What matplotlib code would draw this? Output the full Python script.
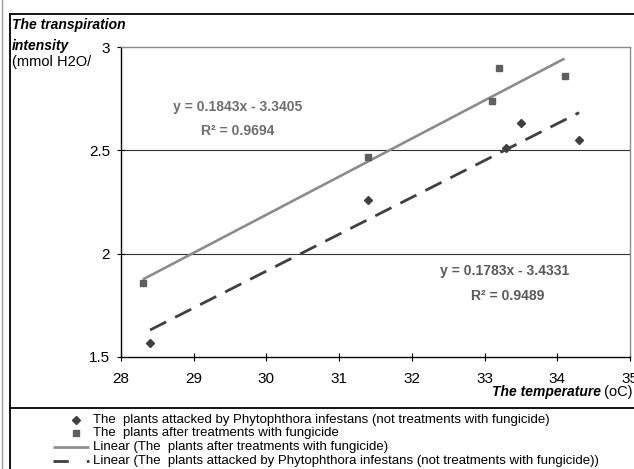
import matplotlib
matplotlib.use("Agg")
import matplotlib.pyplot as plt
from matplotlib.lines import Line2D
import numpy as np

# ---- data ----
x_attacked = [28.4, 31.4, 33.3, 33.5, 34.3]
y_attacked = [1.57, 2.26, 2.51, 2.63, 2.55]
x_treated = [28.3, 31.4, 33.1, 33.2, 34.1]
y_treated = [1.86, 2.47, 2.74, 2.90, 2.86]
fit_treated = (0.1843, -3.3405)
fit_attacked = (0.1783, -3.4331)
r2_treated = 0.9694
r2_attacked = 0.9489
x_ticks = [28, 29, 30, 31, 32, 33, 34, 35]
y_ticks = [1.5, 2, 2.5, 3]
legend_labels = [
    "The  plants attacked by Phytophthora infestans (not treatments with fungicide)",
    "The  plants after treatments with fungicide",
    "Linear (The  plants after treatments with fungicide)",
    "Linear (The  plants attacked by Phytophthora infestans (not treatments with fungicide))",
]

W, H = 634, 469
plt.rcParams['font.family'] = ['Liberation Sans', 'DejaVu Sans']

fig = plt.figure(figsize=(W / 100, H / 100), dpi=100)

def fx(px):
    return px / W

def fy(py):
    return 1 - py / H

left, right, top, bottom = 121, 630, 47, 357
ax = fig.add_axes([fx(left), fy(bottom), fx(right) - fx(left), fy(top) - fy(bottom)])
ax.set_xlim(28, 35)
ax.set_ylim(1.5, 3)
ax.set_xticks(x_ticks)
ax.set_yticks(y_ticks)
ax.set_xticklabels([str(v) for v in x_ticks])
ax.set_yticklabels(['1.5', '2', '2.5', '3'])
ax.tick_params(direction='inout', length=6, width=0.8, labelsize=11, colors='black')
ax.tick_params(axis='x', pad=8)
ax.tick_params(axis='y', pad=5)
for s in ['left', 'bottom']:
    ax.spines[s].set_color('black')
    ax.spines[s].set_linewidth(1.0)
for s in ['top', 'right']:
    ax.spines[s].set_color('#8a8a8a')
    ax.spines[s].set_linewidth(1.0)

for g in [2, 2.5]:
    ax.axhline(g, color='#333333', lw=0.8, zorder=1)

# trendlines
xt = np.array([min(x_treated), max(x_treated)])
ax.plot(xt, fit_treated[0] * xt + fit_treated[1], color='#8c8c8c', lw=1.9, solid_capstyle='butt', zorder=2)
xa = np.array([min(x_attacked), max(x_attacked)])
la, = ax.plot(xa, fit_attacked[0] * xa + fit_attacked[1], color='#404040', lw=2.0, zorder=2)
la.set_dashes([6.5, 3.6])

ax.plot(x_attacked, y_attacked, linestyle='none', marker='D', markersize=3.8, color='#404040', zorder=3)
ax.plot(x_treated, y_treated, linestyle='none', marker='s', markersize=4.3, color='#5f5f5f', zorder=3)

# equations
eqc = '#6e6e6e'
fig.text(fx(238), fy(107), "y = %.4fx - %.4f" % (fit_treated[0], -fit_treated[1]), ha='center', va='center',
         fontsize=10, fontweight='bold', color=eqc)
fig.text(fx(238), fy(131), "R² = %.4f" % r2_treated, ha='center', va='center',
         fontsize=10, fontweight='bold', color=eqc)
fig.text(fx(505), fy(271), "y = %.4fx - %.4f" % (fit_attacked[0], -fit_attacked[1]), ha='center', va='center',
         fontsize=10, fontweight='bold', color='#5a5a5a')
fig.text(fx(508), fy(296), "R² = %.4f" % r2_attacked, ha='center', va='center',
         fontsize=10, fontweight='bold', color='#5a5a5a')

# axis titles
fig.text(fx(12), fy(25), "The transpiration", ha='left', va='center', fontsize=10, fontweight='bold', style='italic')
fig.text(fx(12), fy(46), "intensity", ha='left', va='center', fontsize=10, fontweight='bold', style='italic')
fig.text(fx(12), fy(62), "(mmol H2O/", ha='left', va='center', fontsize=10.5)
t1 = fig.text(fx(633), fy(392), " (oC)", ha='right', va='center', fontsize=10.5)
fig.canvas.draw()
bb = t1.get_window_extent()
fig.text(bb.x0 / W, fy(392), "The temperature", ha='right', va='center', fontsize=10, fontweight='bold', style='italic')

# frame lines
fig.add_artist(Line2D([fx(10), fx(10)], [fy(14), 0], transform=fig.transFigure, color='black', lw=1.3))
fig.add_artist(Line2D([fx(10), 1], [fy(14), fy(14)], transform=fig.transFigure, color='black', lw=1.3))
fig.add_artist(Line2D([fx(10), 1], [fy(408), fy(408)], transform=fig.transFigure, color='black', lw=1.3))
fig.add_artist(Line2D([fx(1.5), fx(1.5)], [fy(0), 0], transform=fig.transFigure, color='#9a9a9a', lw=1.0))

# legend
ys = [420, 433, 447, 461]
fig.add_artist(Line2D([fx(76)], [fy(ys[0])], transform=fig.transFigure, marker='D', markersize=3.8,
                      color='#404040', linestyle='none'))
fig.add_artist(Line2D([fx(76)], [fy(ys[1])], transform=fig.transFigure, marker='s', markersize=4.3,
                      color='#5f5f5f', linestyle='none'))
fig.add_artist(Line2D([fx(53), fx(89)], [fy(ys[2]), fy(ys[2])], transform=fig.transFigure,
                      color='#8c8c8c', lw=1.9, solid_capstyle='butt'))
ld = Line2D([fx(53), fx(89)], [fy(ys[3]), fy(ys[3])], transform=fig.transFigure, color='#404040', lw=2.0)
ld.set_dashes([5.5, 6.5])
fig.add_artist(ld)
for yy, lab in zip(ys, legend_labels):
    fig.text(fx(93), fy(yy), lab, ha='left', va='center', fontsize=9.5)

fig.savefig("out.png", dpi=100)
